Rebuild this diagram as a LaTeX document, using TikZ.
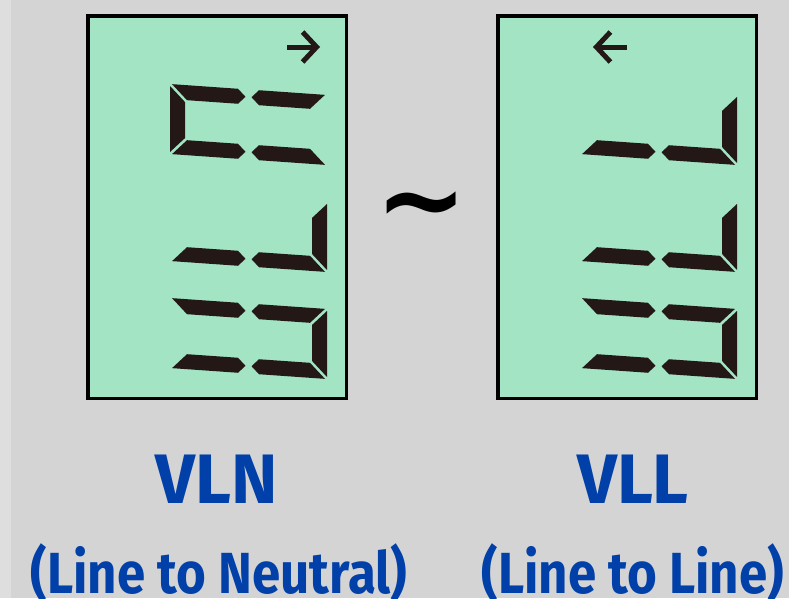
\documentclass[tikz,border=0pt]{standalone}
\usepackage{fontspec}
\setmainfont{Fira Sans}
\newfontfamily\tildefont{DejaVu Sans}
\usetikzlibrary{arrows.meta, positioning, calc}

\definecolor{panelgray}{HTML}{D4D4D4}
\definecolor{stripgray}{HTML}{DEDEDE}
\definecolor{lcdgreen}{HTML}{A3E4C4}
\definecolor{segdark}{HTML}{231815}
\definecolor{labelblue}{RGB}{0,64,168}

\tikzset{
  lcd/.style={draw=black, line width=3.5pt, fill=lcdgreen, minimum width=258.5pt, minimum height=382.5pt, inner sep=0pt},
  segfill/.style={fill=segdark},
  dirarrow/.style={draw=segdark, line width=5pt, -{Straight Barb[length=14pt, width=30pt]}},
  vlabel/.style={text=labelblue, font=\fontsize{70}{70}\selectfont\bfseries, anchor=base, inner sep=0pt},
  sublabel/.style={text=labelblue, font=\fontsize{58}{58}\selectfont\bfseries, anchor=base, inner sep=0pt},
}

% segment outlines inside one digit frame (157 x 70)
\def\segL{(0,2) -- (15,17) -- (15,53) -- (0,68) -- cycle}
\def\segR{(157,2) -- (157,68) -- (142,53) -- (142,17) -- cycle}
\def\segUL{(2,0) -- (68,0) -- (75.5,7.5) -- (68,15) -- (17,15) -- cycle}
\def\segUR{(81.5,7.5) -- (89,0) -- (155,0) -- (140,15) -- (89,15) -- cycle}
\def\segLL{(2,70) -- (17,55) -- (68,55) -- (75.5,62.5) -- (68,70) -- cycle}
\def\segLR{(81.5,62.5) -- (89,55) -- (140,55) -- (155,70) -- (89,70) -- cycle}

% #1 box, #2 row offset, #3 lit segments
\newcommand{\lcddigit}[3]{%
  \begin{scope}[shift={(#1.north west)}, shift={(84,#2)}, yslant=-0.07]
    \foreach \s in {#3} {\fill[segfill] \csname seg\s\endcsname;}
  \end{scope}}

\begin{document}
\begin{tikzpicture}[x=1pt, y=-1pt]
  % panel
  \fill[panelgray] (0,0) rectangle (789,598);
  \fill[stripgray] (0,0) rectangle (11,598);
  \useasboundingbox (0,0) rectangle (789,598);

  % the two readouts
  \node[lcd] (lcdL) at (217,207) {};
  \node[lcd] (lcdR) at (627,207) {};

  % direction marks
  \draw[dirarrow] ($(lcdL.north west)+(201,33)$) -- ($(lcdL.north west)+(234,33)$);
  \draw[dirarrow] ($(lcdR.north west)+(131,33)$) -- ($(lcdR.north west)+(97,33)$);

  % seven segment digits
  \lcddigit{lcdL}{70}{L,UL,UR,LL,LR}
  \lcddigit{lcdL}{177}{R,LL,LR}
  \lcddigit{lcdL}{284}{UL,UR,R,LL,LR}
  \lcddigit{lcdR}{70}{R,LL,LR}
  \lcddigit{lcdR}{177}{R,LL,LR}
  \lcddigit{lcdR}{284}{UL,UR,R,LL,LR}

  \node[font=\tildefont\bfseries\fontsize{110}{110}\selectfont, inner sep=0pt] (tilde) at (422,215) {\textasciitilde};

  % captions
  \node[vlabel] (vln) at (217,503) {VLN};
  \node[vlabel] (vll) at (633,503) {VLL};
  \node[sublabel] (vlnsub) at (219,593) {\scalebox{0.88}[1]{(Line to Neutral)}};
  \node[sublabel] (vllsub) at (633,593) {\scalebox{0.88}[1]{(Line to Line)}};
\end{tikzpicture}
\end{document}
